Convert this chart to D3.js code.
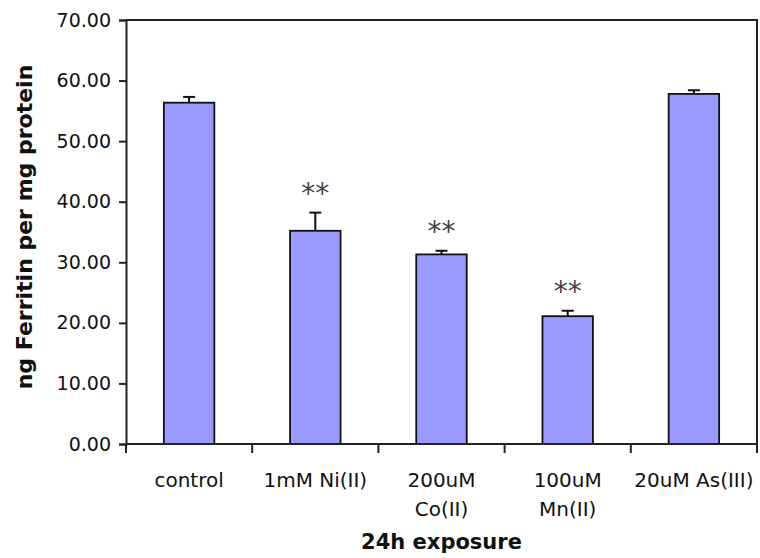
<!DOCTYPE html>
<html>
<head>
<meta charset="utf-8">
<script src="https://cdn.jsdelivr.net/npm/d3@7/dist/d3.min.js"></script>
<style>
  body { margin: 0; background: #fff; }
  text { font-family: "DejaVu Sans", sans-serif; fill: #111; }
</style>
</head>
<body>
<svg></svg>
<script>
// data
var categories = ['control', '1mM Ni(II)', '200uM Co(II)', '100uM Mn(II)', '20uM As(III)']
var labelLines = [['control'], ['1mM Ni(II)'], ['200uM', 'Co(II)'], ['100uM', 'Mn(II)'], ['20uM As(III)']]
var values = [56.35, 35.2, 31.3, 21.1, 57.8]
var errors = [0.95, 3.0, 0.6, 0.9, 0.6]
var stars = ['', '**', '**', '**', '']
var yTicks = [0, 10, 20, 30, 40, 50, 60, 70]

var svgWidth = 760, svgHeight = 558
var plotLeft = 126, plotRight = 757, plotTop = 20, plotBottom = 444

var svg = d3.select('svg')
    .attr('width', svgWidth)
    .attr('height', svgHeight)

var x = d3.scaleBand()
    .domain(categories)
    .range([plotLeft, plotRight])
    .paddingInner(0.6)
    .paddingOuter(0.3)

var y = d3.scaleLinear()
    .domain([0, 70])
    .range([plotBottom, plotTop])

// frame: top and right
svg.append('path')
    .attr('d', 'M' + plotLeft + ',' + plotTop + 'H' + plotRight + 'V' + plotBottom)
    .attr('fill', 'none')
    .attr('stroke', '#222')
    .attr('stroke-width', 2)

// bars
svg.selectAll('rect.bar')
    .data(values)
    .enter()
    .append('rect')
    .attr('class', 'bar')
    .attr('x', function(d, i) { return x(categories[i]) })
    .attr('width', x.bandwidth())
    .attr('y', function(d) { return y(d) })
    .attr('height', function(d) { return y(0) - y(d) })
    .attr('fill', '#9999ff')
    .attr('stroke', '#111')
    .attr('stroke-width', 1.8)

// error bars (upper only)
var err = svg.selectAll('g.err')
    .data(values)
    .enter()
    .append('g')
    .attr('class', 'err')
    .attr('stroke', '#111')
    .attr('stroke-width', 2)
err.append('line')
    .attr('x1', function(d, i) { return x(categories[i]) + x.bandwidth() / 2 })
    .attr('x2', function(d, i) { return x(categories[i]) + x.bandwidth() / 2 })
    .attr('y1', function(d) { return y(d) })
    .attr('y2', function(d, i) { return y(d + errors[i]) })
err.append('line')
    .attr('x1', function(d, i) { return x(categories[i]) + x.bandwidth() / 2 - 6 })
    .attr('x2', function(d, i) { return x(categories[i]) + x.bandwidth() / 2 + 6 })
    .attr('y1', function(d, i) { return y(d + errors[i]) })
    .attr('y2', function(d, i) { return y(d + errors[i]) })

// significance stars
svg.selectAll('text.star')
    .data(values)
    .enter()
    .append('text')
    .attr('class', 'star')
    .attr('x', function(d, i) { return x(categories[i]) + x.bandwidth() / 2 })
    .attr('y', function(d, i) { return y(d + errors[i]) - 10 })
    .attr('text-anchor', 'middle')
    .style('font-size', '28px')
    .style('fill', '#444')
    .text(function(d, i) { return stars[i] })

// y axis
var yAxis = svg.append('g')
    .attr('transform', 'translate(' + plotLeft + ',0)')
    .call(d3.axisLeft(y).tickValues(yTicks).tickFormat(d3.format('.2f')).tickSize(7).tickPadding(8))
yAxis.select('.domain').attr('stroke', '#222').attr('stroke-width', 2)
yAxis.selectAll('.tick line').attr('stroke', '#222').attr('stroke-width', 2)
yAxis.selectAll('.tick text')
    .style('font-size', '19px')
    .style('font-family', '"DejaVu Sans", sans-serif')
    .attr('fill', '#111')

// x axis line and ticks at band edges
svg.append('line')
    .attr('x1', plotLeft).attr('x2', plotRight)
    .attr('y1', plotBottom).attr('y2', plotBottom)
    .attr('stroke', '#222').attr('stroke-width', 2)
var edges = categories.map(function(c) { return x(c) - x.step() * x.paddingOuter() }).concat([plotRight])
svg.selectAll('line.xtick')
    .data(edges)
    .enter()
    .append('line')
    .attr('class', 'xtick')
    .attr('x1', function(d) { return d }).attr('x2', function(d) { return d })
    .attr('y1', plotBottom).attr('y2', plotBottom + 9)
    .attr('stroke', '#222').attr('stroke-width', 2)

// category labels
var lab = svg.selectAll('text.xlab')
    .data(labelLines)
    .enter()
    .append('text')
    .attr('class', 'xlab')
    .attr('text-anchor', 'middle')
    .style('font-size', '20px')
lab.selectAll('tspan')
    .data(function(d, i) { return d.map(function(s) { return { s: s, i: i } }) })
    .enter()
    .append('tspan')
    .attr('x', function(d) { return x(categories[d.i]) + x.bandwidth() / 2 })
    .attr('y', function(d, j) { return 487 + j * 29 })
    .text(function(d) { return d.s })

// axis titles
svg.append('text')
    .attr('x', (plotLeft + plotRight) / 2)
    .attr('y', 549)
    .attr('text-anchor', 'middle')
    .style('font-size', '21px')
    .style('font-weight', 'bold')
    .text('24h exposure')

svg.append('text')
    .attr('transform', 'translate(32,227) rotate(-90)')
    .attr('text-anchor', 'middle')
    .style('font-size', '22px')
    .style('font-weight', 'bold')
    .text('ng Ferritin per mg protein')
</script>
</body>
</html>
